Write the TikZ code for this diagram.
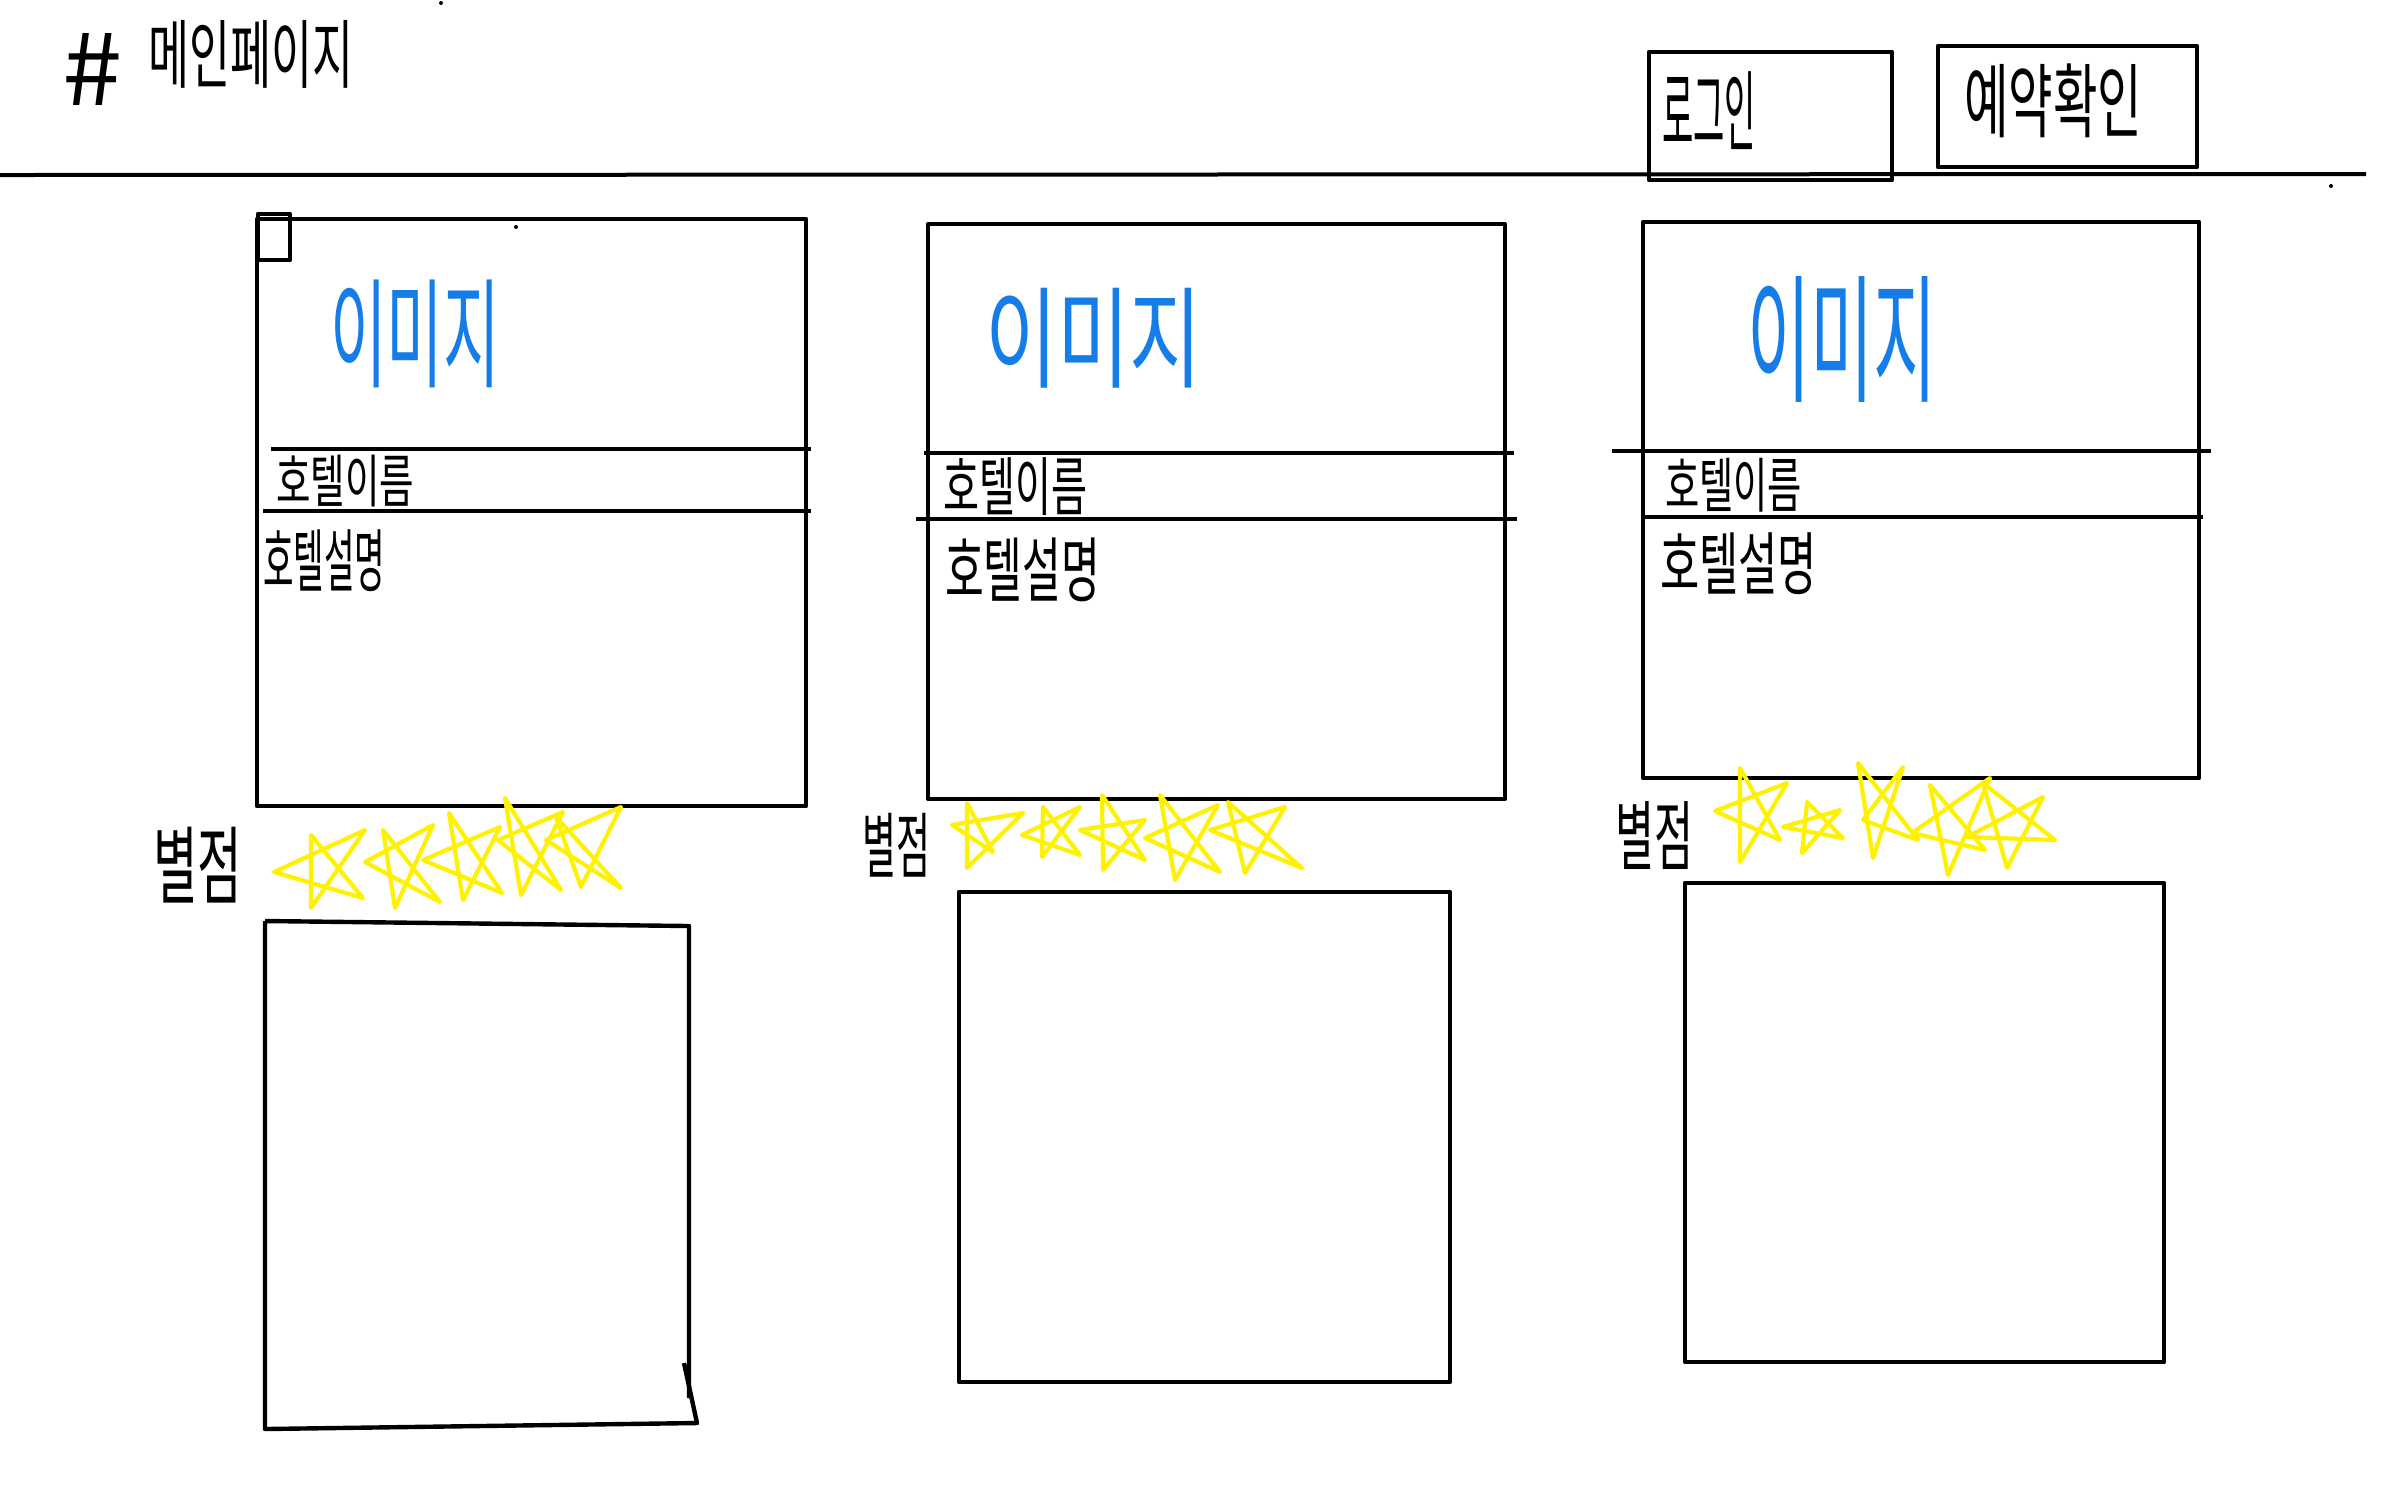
\documentclass[tikz,border=0pt]{standalone}
\usepackage{fontspec}
\usepackage{graphicx}
\newfontfamily\kr{Noto Sans CJK KR}
\newdimen\pxu \pxu=0.25pt
\newcommand\hw[3]{\resizebox*{#1\pxu}{#2\pxu}{\kr #3}}
\newcommand\pstar[5]{\draw[starline] #1 -- #2 -- #3 -- #4 -- #5 -- cycle;}
\definecolor{imgblue}{RGB}{22,125,232}
\definecolor{staryellow}{RGB}{255,242,0}
\begin{document}
\begin{tikzpicture}[x=0.25pt,y=-0.25pt,
  boxline/.style={line width=1.1pt, line join=round},
  txt/.style={anchor=north west, inner sep=0pt, outer sep=0pt},
  bluetxt/.style={txt, text=imgblue},
  starline/.style={draw=staryellow, line width=1.05pt, line join=round, line cap=round}]
\useasboundingbox (0,0) rectangle (2386,1491);

% header
\node[txt] (hash) at (62,33) {\hw{60}{72}{\#}};
\node[txt] (title) at (148,20) {\hw{205}{68}{메인페이지}};
\draw[line width=1.0pt] (0,175) -- (2366,174);
\draw[boxline] (1649,52) rectangle (1892,180);
\node[txt] (login) at (1662,72) {\hw{94}{78}{로그인}};
\draw[boxline] (1938,46) rectangle (2197,167);
\node[txt] (resv) at (1964,64) {\hw{178}{74}{예약확인}};
\fill (441,3) circle (2);
\fill (516,227) circle (2);
\fill (2331,186) circle (2);

% card 1
\draw[boxline] (257,219) rectangle (806,806);
\draw[boxline] (258,214) rectangle (290,260);
\draw[boxline] (271,449) -- (811,449);
\draw[boxline] (263,511) -- (811,511);
\node[bluetxt] (img1) at (330,280) {\hw{170}{108}{이미지}};
\node[txt] (name1) at (276,455) {\hw{138}{52}{호텔이름}};
\node[txt] (desc1) at (263,530) {\hw{122}{62}{호텔설명}};

% card 2
\draw[boxline] (928,224) rectangle (1505,799);
\draw[boxline] (924,453) -- (1514,453);
\draw[boxline] (916,519) -- (1517,519);
\node[bluetxt] (img2) at (985,288) {\hw{217}{100}{이미지}};
\node[txt] (name2) at (943,458) {\hw{144}{58}{호텔이름}};
\node[txt] (desc2) at (945,538) {\hw{155}{64}{호텔설명}};

% card 3
\draw[boxline] (1643,222) rectangle (2199,778);
\draw[boxline] (1612,451) -- (2211,451);
\draw[boxline] (1643,517) -- (2203,517);
\node[bluetxt] (img3) at (1747,276) {\hw{190}{126}{이미지}};
\node[txt] (name3) at (1665,458) {\hw{137}{54}{호텔이름}};
\node[txt] (desc3) at (1660,533) {\hw{157}{62}{호텔설명}};

% ratings
\node[txt] (rate1) at (153,827) {\hw{89}{76}{별점}};
\node[txt] (rate2) at (862,813) {\hw{68}{64}{별점}};
\node[txt] (rate3) at (1615,801) {\hw{78}{68}{별점}};

\pstar{(274,872)}{(365,830)}{(311,908)}{(311,835)}{(363,898)}
\pstar{(365,862)}{(433,825)}{(395,908)}{(383,830)}{(440,902)}
\pstar{(423,860)}{(500,827)}{(463,900)}{(449,813)}{(502,893)}
\pstar{(498,840)}{(563,812)}{(521,895)}{(505,798)}{(561,890)}
\pstar{(546,840)}{(621,807)}{(581,887)}{(556,817)}{(621,888)}

\pstar{(952,825)}{(1023,813)}{(967,868)}{(967,803)}{(993,852)}
\pstar{(1022,835)}{(1080,807)}{(1042,857)}{(1043,807)}{(1080,855)}
\pstar{(1080,830)}{(1145,820)}{(1103,870)}{(1102,795)}{(1145,860)}
\pstar{(1145,838)}{(1218,805)}{(1175,880)}{(1160,795)}{(1220,872)}
\pstar{(1210,830)}{(1285,807)}{(1245,873)}{(1228,802)}{(1302,868)}

\pstar{(1715,811)}{(1787,783)}{(1740,862)}{(1740,768)}{(1780,840)}
\pstar{(1783,827)}{(1840,810)}{(1802,853)}{(1807,802)}{(1843,838)}
\pstar{(1863,820)}{(1903,767)}{(1873,858)}{(1858,763)}{(1918,840)}
\pstar{(1912,833)}{(1990,778)}{(1948,875)}{(1930,785)}{(1985,850)}
\pstar{(1967,837)}{(2043,797)}{(2007,868)}{(1983,783)}{(2055,840)}

% bottom boxes
\draw[boxline] (265,921) -- (689,926) -- (689,1398);
\draw[boxline] (684,1363) -- (697,1423) -- (265,1429) -- (265,921);
\draw[boxline] (959,892) rectangle (1450,1382);
\draw[boxline] (1685,883) rectangle (2164,1362);
\end{tikzpicture}
\end{document}
